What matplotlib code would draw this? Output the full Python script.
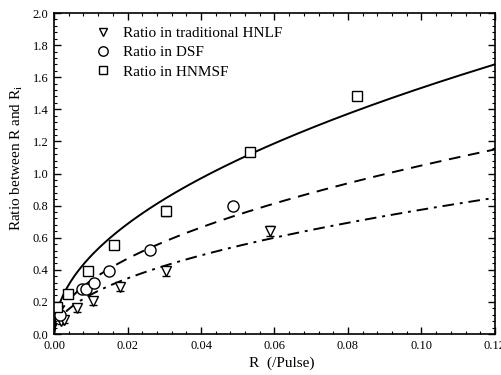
import matplotlib
matplotlib.use("Agg")
import matplotlib.pyplot as plt
import numpy as np
from matplotlib.ticker import MultipleLocator

plt.rcParams['font.family'] = ['Liberation Serif', 'DejaVu Serif']
plt.rcParams['mathtext.fontset'] = 'custom'
plt.rcParams['mathtext.rm'] = 'Liberation Serif'

# HNLF (triangles)
hnlf_x = [0.0018, 0.0027, 0.0063, 0.0105, 0.018, 0.0304, 0.0588]
hnlf_y = [0.08, 0.09, 0.16, 0.205, 0.29, 0.39, 0.64]
hnlf_err = [0.02, 0.02, 0.025, 0.025, 0.025, 0.03, 0.03]
# DSF (circles)
dsf_x = [0.0015, 0.0076, 0.0087, 0.0109, 0.0149, 0.0261, 0.0486]
dsf_y = [0.12, 0.28, 0.28, 0.32, 0.395, 0.525, 0.80]
dsf_err = [0.02, 0.02, 0.02, 0.02, 0.02, 0.02, 0.02]
# HNMSF (squares)
hnmsf_x = [0.0008, 0.0038, 0.0093, 0.0163, 0.0305, 0.0533, 0.0824]
hnmsf_y = [0.17, 0.25, 0.39, 0.555, 0.765, 1.135, 1.48]
hnmsf_err = [0.02, 0.02, 0.02, 0.015, 0.03, 0.02, 0.025]

# power-law fits y = a * x**b
fit_hnmsf = (4.85, 0.5)
fit_dsf = (3.32, 0.5)
fit_hnlf = (2.45, 0.5)

xticks = [0.00, 0.02, 0.04, 0.06, 0.08, 0.10, 0.12]
yticks = [0.0, 0.2, 0.4, 0.6, 0.8, 1.0, 1.2, 1.4, 1.6, 1.8, 2.0]

fig = plt.figure(figsize=(5.02, 3.75), dpi=100)
ax = fig.add_axes([0.1076, 0.1093, 0.8784, 0.856])

xf = np.linspace(0, 0.12, 400)
ax.plot(xf, fit_hnmsf[0] * xf ** fit_hnmsf[1], color='black', lw=1.4, ls='-')
ax.plot(xf, fit_dsf[0] * xf ** fit_dsf[1], color='black', lw=1.4, ls=(0, (6, 4)))
ax.plot(xf, fit_hnlf[0] * xf ** fit_hnlf[1], color='black', lw=1.4, ls=(0, (6, 3, 1.5, 3)))

ekw = dict(ecolor='black', elinewidth=1.0, capsize=3, capthick=1.0, linestyle='none',
           mfc='white', mec='black', mew=1.0, color='black')
ax.errorbar(hnlf_x, hnlf_y, yerr=hnlf_err, marker='v', ms=7.5,
            label='Ratio in traditional HNLF', **ekw)
ax.errorbar(dsf_x, dsf_y, yerr=dsf_err, marker='o', ms=8,
            label='Ratio in DSF', **ekw)
ax.errorbar(hnmsf_x, hnmsf_y, yerr=hnmsf_err, marker='s', ms=7,
            label='Ratio in HNMSF', **ekw)

ax.set_xlim(0, 0.12)
ax.set_ylim(0, 2.0)
ax.set_xticks(xticks)
ax.set_yticks(yticks)
ax.set_xticklabels([f"{v:.2f}" for v in xticks])
ax.set_yticklabels([f"{v:.1f}" for v in yticks])
ax.xaxis.set_minor_locator(MultipleLocator(0.004))
ax.yaxis.set_minor_locator(MultipleLocator(0.04))
ax.tick_params(which='both', direction='in', top=True, right=True, labelsize=9, pad=4)
ax.tick_params(which='major', length=5, width=1)
ax.tick_params(which='minor', length=2.5, width=0.8)
for s in ax.spines.values():
    s.set_linewidth(1.2)

ax.set_xlabel('R  (/Pulse)', fontsize=11)
ax.set_ylabel('Ratio between R and R$_\\mathregular{i}$', fontsize=11)
ax.xaxis.set_label_coords(0.517, -0.07)
ax.yaxis.set_label_coords(-0.066, 0.55)

handles, labels = ax.get_legend_handles_labels()
handles = [h[0] for h in handles]
ax.legend(handles, labels, loc='upper left', frameon=False, fontsize=11,
          bbox_to_anchor=(0.056, 1.0), handletextpad=0.6, labelspacing=0.35,
          handlelength=1.4, markerscale=0.85)

fig.savefig('out.png', dpi=100)
